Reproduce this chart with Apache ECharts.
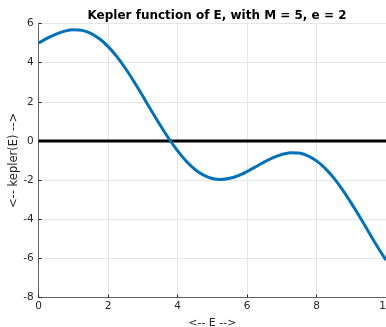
<!DOCTYPE html>
<html>
<head>
<meta charset="utf-8">
<script src="https://cdn.jsdelivr.net/npm/echarts@6/dist/echarts.min.js"></script>
<style>
  html, body { margin: 0; padding: 0; background: #fff; }
  #chart { width: 386px; height: 327px; }
</style>
</head>
<body>
<div id="chart"></div>
<script>
const eValues = [0, 0.25, 0.5, 0.75, 1, 1.25, 1.5, 1.75, 2, 2.25, 2.5, 2.75, 3, 3.25, 3.5, 3.75, 4, 4.25, 4.5, 4.75, 5,
  5.25, 5.5, 5.75, 6, 6.25, 6.5, 6.75, 7, 7.25, 7.5, 7.75, 8, 8.25, 8.5, 8.75, 9, 9.25, 9.5, 9.75, 10];
const keplerValues = [5.0, 5.25, 5.46, 5.61, 5.68, 5.65, 5.5, 5.22, 4.82, 4.31, 3.7, 3.01, 2.28, 1.53, 0.8, 0.11, -0.51,
  -1.04, -1.46, -1.75, -1.92, -1.97, -1.91, -1.77, -1.56, -1.32, -1.07, -0.85, -0.69, -0.6, -0.62, -0.76, -1.02,
  -1.4, -1.9, -2.5, -3.18, -3.9, -4.65, -5.39, -6.09];
const zeroLine = [[0, 0], [10, 0]];
const xTicks = [0, 2, 4, 6, 8, 10];
const yTicks = [-8, -6, -4, -2, 0, 2, 4, 6];

const font = "DejaVu Sans";
const chart = echarts.init(document.getElementById("chart"));

chart.setOption({
  animation: false,
  backgroundColor: "#fff",
  textStyle: { fontFamily: font },
  title: {
    text: "Kepler function of E, with M = 5, e = 2",
    left: 212,
    textAlign: "center",
    top: 5,
    textStyle: { fontFamily: font, fontSize: 12, fontWeight: "bold", color: "#000" },
  },
  grid: { left: 38.7, right: 0, top: 23.5, bottom: 29.5, outerBoundsMode: "none", containLabel: false },
  xAxis: {
    type: "value",
    min: xTicks[0],
    max: xTicks[xTicks.length - 1],
    interval: 2,
    name: "<-- E -->",
    nameLocation: "middle",
    nameGap: 20,
    nameMoveOverlap: false,
    nameTextStyle: { fontFamily: font, fontSize: 11, color: "#262626" },
    axisLine: { show: true, onZero: false, lineStyle: { color: "#262626", width: 0.7 } },
    axisTick: { show: true, inside: true, length: 3, lineStyle: { color: "#262626" } },
    axisLabel: { fontFamily: font, fontSize: 10.5, color: "#262626", margin: 3 },
    splitLine: { show: true, lineStyle: { color: "#e6e6e6", width: 1 } },
  },
  yAxis: {
    type: "value",
    min: yTicks[0],
    max: yTicks[yTicks.length - 1],
    interval: 2,
    name: "<-- kepler(E) -->",
    nameLocation: "middle",
    nameGap: 19,
    nameMoveOverlap: false,
    nameTextStyle: { fontFamily: font, fontSize: 11.5, color: "#262626" },
    axisLine: { show: true, lineStyle: { color: "#262626", width: 0.7 } },
    axisTick: { show: true, inside: true, length: 3, lineStyle: { color: "#262626" } },
    axisLabel: { fontFamily: font, fontSize: 10.5, color: "#262626", margin: 5 },
    splitLine: { show: true, lineStyle: { color: "#e6e6e6", width: 1 } },
  },
  series: [
    {
      type: "line",
      data: zeroLine,
      showSymbol: false,
      lineStyle: { color: "#000", width: 3 },
      z: 2,
    },
    {
      type: "line",
      data: eValues.map((e, i) => [e, keplerValues[i]]),
      smooth: 0.3,
      showSymbol: false,
      lineStyle: { color: "#0072BD", width: 3 },
      z: 3,
    },
  ],
});
</script>
</body>
</html>
